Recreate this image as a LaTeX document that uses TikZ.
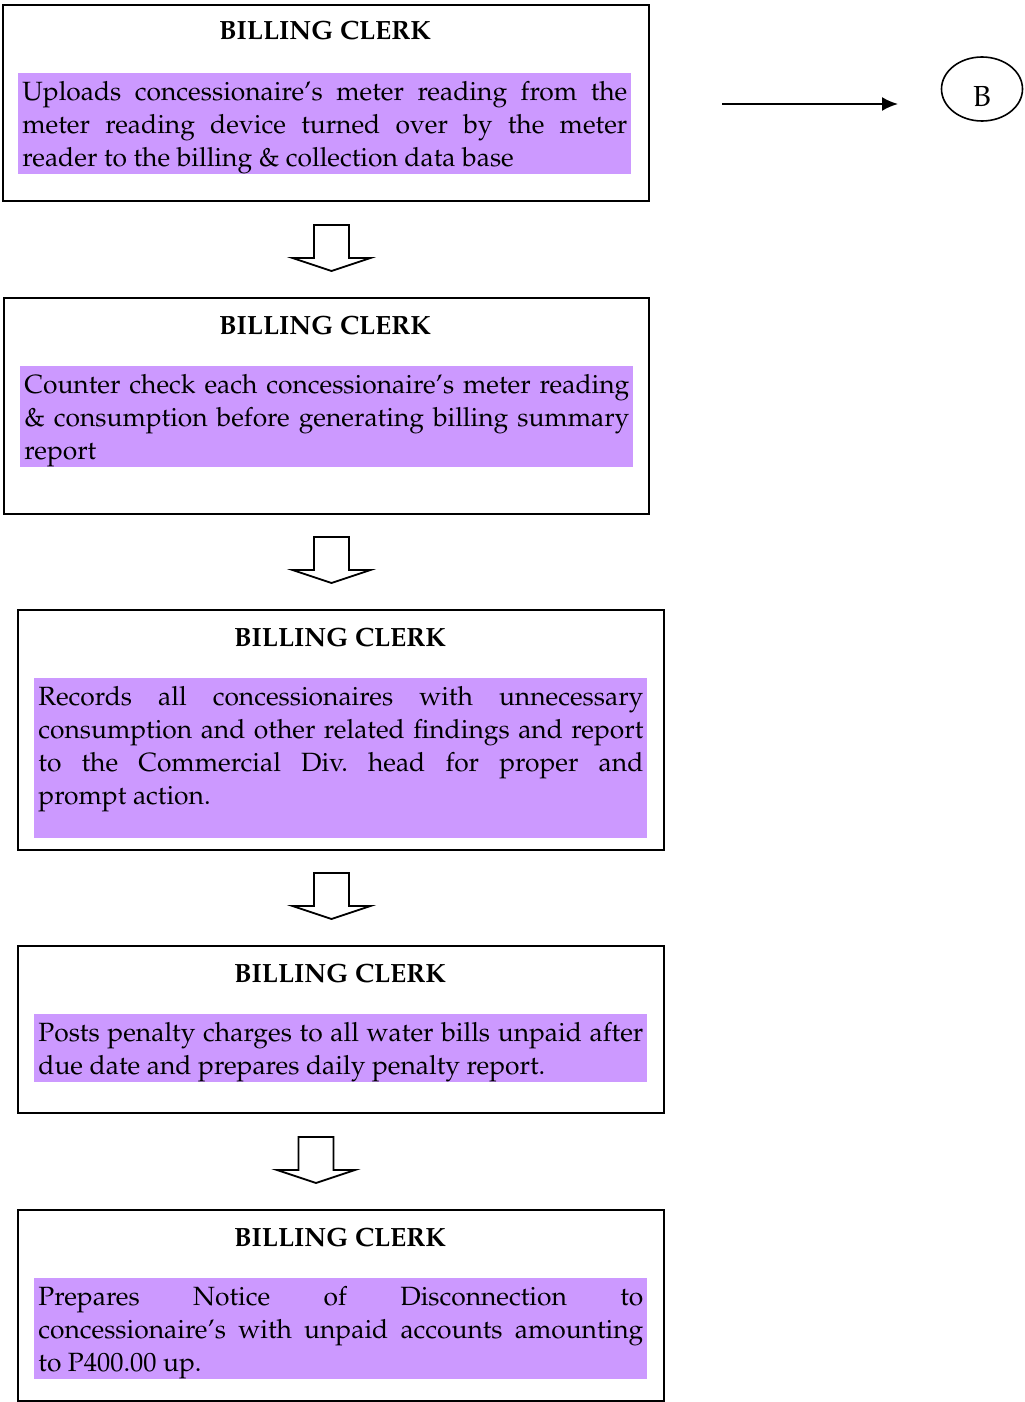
\documentclass[tikz,border=0pt]{standalone}
\usepackage[T1]{fontenc}
\usepackage{mathpazo}
\usetikzlibrary{shapes.geometric,arrows.meta}
\definecolor{lav}{RGB}{204,153,255}
\hyphenpenalty=10000
\hbadness=10000
% struts that fix the line heights inside the shaded text blocks
\newcommand\upstrut{\vrule height 13.5pt depth 0pt width 0pt\relax}
\newcommand\downstrut[1][3pt]{\vrule height 0pt depth #1 width 0pt\relax}
\tikzset{
  frame/.style={draw, line width=1pt, anchor=north west, inner sep=0pt},
  title/.style={font=\fontsize{13.2}{16.5}\selectfont\bfseries, anchor=base},
  body/.style={fill=lav, anchor=north west, inner xsep=2pt, inner ysep=0pt,
    text width=302.5pt, align=justify,
    font=\fontsize{13.2}{16.5}\selectfont},
  blockdown/.pic={
    \draw[line width=0.9pt, line join=miter, fill=white]
      (-17.5,0) -- (17.5,0) -- (17.5,33) -- (39,33) -- (0,46)
      -- (-39,33) -- (-17.5,33) -- cycle;
  }
}
\begin{document}
\begin{tikzpicture}[x=0.5pt,y=-0.5pt]
\useasboundingbox (0,0) rectangle (1024,1402);

% step 1
\node[frame, minimum width=323pt, minimum height=98pt] (f1) at (2,4) {};
\node[title] (t1) at (325,40) {BILLING CLERK};
\node[body] (b1) at (18,73) {\upstrut Uploads concessionaire's meter reading from the\linebreak
meter reading device turned over by the meter\linebreak
reader to the billing \& collection data base\downstrut};

\pic (a1) at (331.5,225) {blockdown};

% step 2
\node[frame, minimum width=322.5pt, minimum height=108pt] (f2) at (3,297) {};
\node[title] (t2) at (325,334) {BILLING CLERK};
\node[body] (b2) at (20,366) {\upstrut Counter check each concessionaire's meter reading\linebreak
\& consumption before generating billing summary\linebreak
report\downstrut};

\pic (a2) at (331.5,537) {blockdown};

% step 3
\node[frame, minimum width=323pt, minimum height=120pt] (f3) at (17,609) {};
\node[title] (t3) at (340,646) {BILLING CLERK};
\node[body] (b3) at (34,678) {\upstrut Records all concessionaires with unnecessary\linebreak
consumption and other related findings and report\linebreak
to the Commercial Div.\ head for proper and\linebreak
prompt action.\downstrut[17pt]};

\pic (a3) at (331.5,873) {blockdown};

% step 4
\node[frame, minimum width=323pt, minimum height=83.5pt] (f4) at (17,945) {};
\node[title] (t4) at (340,982) {BILLING CLERK};
\node[body] (b4) at (34,1014) {\upstrut Posts penalty charges to all water bills unpaid after\linebreak
due date and prepares daily penalty report.\downstrut};

\pic (a4) at (316,1137) {blockdown};

% step 5
\node[frame, minimum width=323pt, minimum height=95.5pt] (f5) at (17,1209) {};
\node[title] (t5) at (340,1246) {BILLING CLERK};
\node[body] (b5) at (34,1278) {\upstrut Prepares Notice of Disconnection to\linebreak
concessionaire's with unpaid accounts amounting\linebreak
to P400.00 up.\downstrut};

% off-page connector
\coordinate (c0) at (722,104);
\coordinate (c1) at (898,104);
\draw[line width=1pt, -{Latex[length=8pt,width=7pt]}] (c0) -- (c1);
\node[draw, ellipse, line width=0.8pt, minimum width=40.5pt, minimum height=32pt,
  inner sep=0pt, font=\fontsize{14.5}{16}\selectfont,
  text height=17pt, text depth=0pt] (B) at (982,89) {B\hspace{5pt}};
\end{tikzpicture}
\end{document}
